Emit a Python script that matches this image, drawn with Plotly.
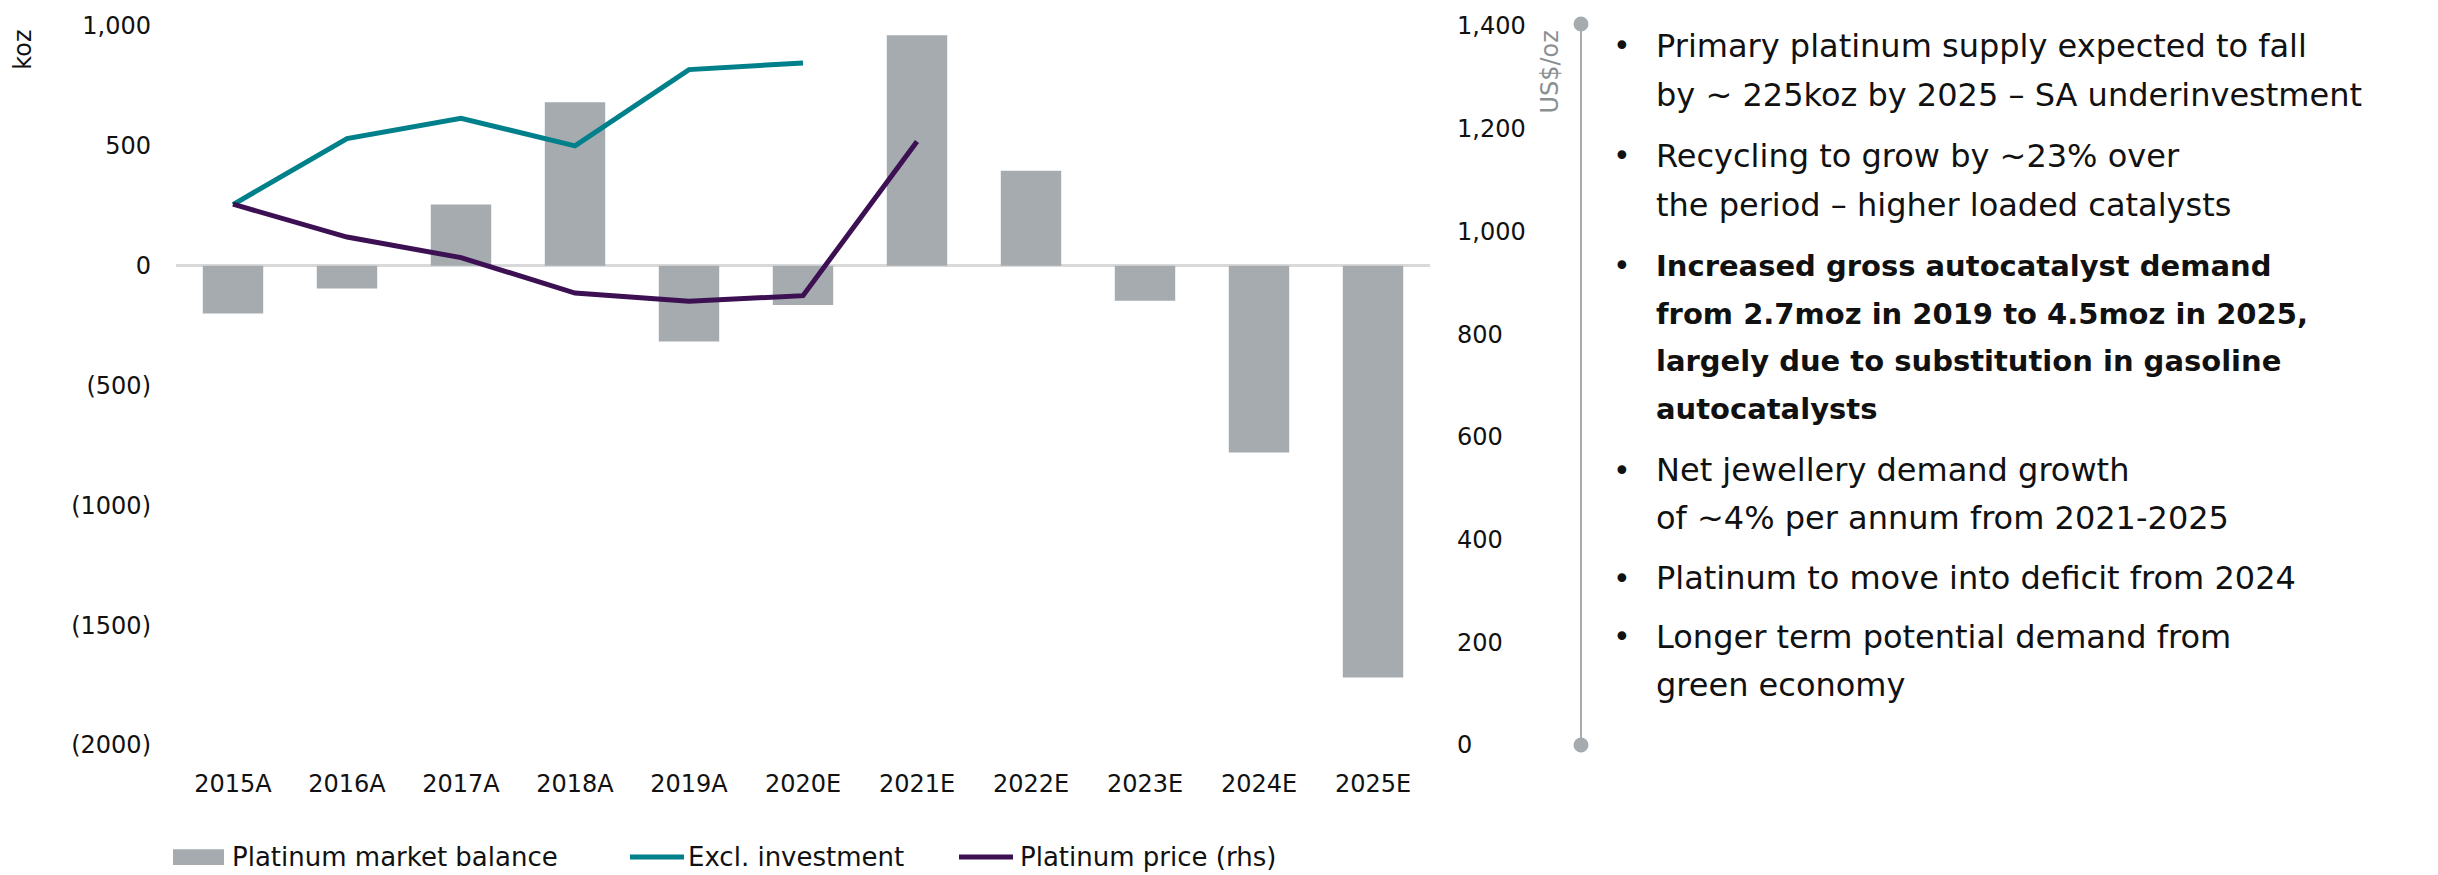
import plotly.graph_objects as go

# ---- data ----
years = ["2015A", "2016A", "2017A", "2018A", "2019A", "2020E",
         "2021E", "2022E", "2023E", "2024E", "2025E"]
market_balance = [-200, -95, 255, 682, -316, -164, 961, 396, -146, -780, -1718]
excl_investment = [255, 530, 615, 500, 818, 846, None, None, None, None, None]
platinum_price = [1053, 989, 949, 880, 864, 875, 1175, None, None, None, None]

left_tickvals = [1000, 500, 0, -500, -1000, -1500, -2000]
left_ticktext = ["1,000", "500", "0", "(500)", "(1000)", "(1500)", "(2000)"]
right_tickvals = [0, 200, 400, 600, 800, 1000, 1200, 1400]
right_ticktext = ["0", "200", "400", "600", "800", "1,000", "1,200", "1,400"]

series_names = ["Platinum market balance", "Excl. investment", "Platinum price (rhs)"]
left_title = "koz"
right_title = "US$/oz"

bullets = [
    (["Primary platinum supply expected to fall",
      "by ~ 225koz by 2025 – SA underinvestment"], False),
    (["Recycling to grow by ~23% over",
      "the period – higher loaded catalysts"], False),
    (["Increased gross autocatalyst demand",
      "from 2.7moz in 2019 to 4.5moz in 2025,",
      "largely due to substitution in gasoline",
      "autocatalysts"], True),
    (["Net jewellery demand growth",
      "of ~4% per annum from 2021-2025"], False),
    (["Platinum to move into deficit from 2024"], False),
    (["Longer term potential demand from",
      "green economy"], False),
]

# ---- styling ----
W, H = 2438, 875
L, R, T, B = 176, 1008, 20, 130
PW, PH = W - L - R, H - T - B
FONT = "DejaVu Sans"
GREY_BAR = "#A5ABAE"
TEAL = "#00808A"
PURPLE = "#3C1053"


def px(x):
    return (x - L) / PW


def py(y):
    return (H - B - y) / PH


fig = go.Figure()
fig.add_trace(go.Bar(x=years, y=market_balance, name=series_names[0],
                     marker=dict(color=GREY_BAR, line=dict(width=0)),
                     yaxis="y"))
fig.add_trace(go.Scatter(x=years, y=excl_investment, name=series_names[1],
                         mode="lines", line=dict(color=TEAL, width=5),
                         yaxis="y", connectgaps=False))
fig.add_trace(go.Scatter(x=years, y=platinum_price, name=series_names[2],
                         mode="lines", line=dict(color=PURPLE, width=5),
                         yaxis="y2", connectgaps=False))

fig.update_layout(
    width=W, height=H, autosize=False,
    margin=dict(l=L, r=R, t=T, b=B, pad=0),
    paper_bgcolor="white", plot_bgcolor="white",
    showlegend=False,
    bargap=0.47,
    font=dict(family=FONT, color="#111111", size=24),
    xaxis=dict(type="category", range=[-0.5, 10.5], showgrid=False,
               showline=False, zeroline=False, ticks="",
               tickfont=dict(size=24), ticklabelstandoff=22),
    yaxis=dict(range=[-2000, 1000], tickvals=left_tickvals,
               ticktext=left_ticktext, showgrid=False, showline=False,
               zeroline=True, zerolinecolor="#D9D9D9", zerolinewidth=3,
               ticks="", tickfont=dict(size=24), ticklabelstandoff=24),
    yaxis2=dict(range=[0, 1400], overlaying="y", side="right",
                tickvals=right_tickvals, ticktext=right_ticktext,
                showgrid=False, showline=False, zeroline=False, ticks="",
                tickfont=dict(size=24), ticklabelstandoff=26),
)

annotations = []
shapes = []

# axis titles
annotations.append(dict(text=left_title, x=px(23), y=py(44), xref="paper",
                        yref="paper", xanchor="center", yanchor="middle",
                        showarrow=False, textangle=-90,
                        font=dict(size=24, color="#111111")))
annotations.append(dict(text=right_title, x=px(1550), y=py(67), xref="paper",
                        yref="paper", xanchor="center", yanchor="middle",
                        showarrow=False, textangle=-90,
                        font=dict(size=24, color="#8A8F92")))

# legend row
ly = 858
shapes.append(dict(type="rect", xref="paper", yref="paper",
                   x0=px(173), x1=px(224), y0=py(866), y1=py(850),
                   fillcolor=GREY_BAR, line=dict(width=0)))
shapes.append(dict(type="line", xref="paper", yref="paper",
                   x0=px(630), x1=px(684), y0=py(ly), y1=py(ly),
                   line=dict(color=TEAL, width=5)))
shapes.append(dict(type="line", xref="paper", yref="paper",
                   x0=px(959), x1=px(1013), y0=py(ly), y1=py(ly),
                   line=dict(color=PURPLE, width=5)))
for name, x0 in zip(series_names, [230, 686, 1018]):
    annotations.append(dict(text=name, x=px(x0), y=py(ly), xref="paper",
                            yref="paper", xanchor="left", yanchor="middle",
                            showarrow=False, font=dict(size=26)))

# divider with end dots
vx = 1581
shapes.append(dict(type="line", xref="paper", yref="paper",
                   x0=px(vx), x1=px(vx), y0=py(18), y1=py(745),
                   line=dict(color=GREY_BAR, width=2)))
for cy in (18, 745):
    shapes.append(dict(type="circle", xref="paper", yref="paper",
                       x0=px(vx - 7.5), x1=px(vx + 7.5), y0=py(cy + 7.5), y1=py(cy - 7.5),
                       fillcolor=GREY_BAR, line=dict(width=0)))

# bullet list
line_y = [[40, 90], [151, 200], [262, 310, 358, 406], [468, 516], [577], [636, 685]]
for (lines, bold), ys in zip(bullets, line_y):
    annotations.append(dict(text="•", x=px(1622), y=py(ys[0]), xref="paper",
                            yref="paper", xanchor="center", yanchor="middle",
                            showarrow=False, font=dict(size=30)))
    for txt, yy in zip(lines, ys):
        annotations.append(dict(text=f"<b>{txt}</b>" if bold else txt,
                                x=px(1654), y=py(yy), xref="paper",
                                yref="paper", xanchor="left", yanchor="middle",
                                showarrow=False,
                                font=dict(size=29 if bold else 32)))

fig.update_layout(annotations=annotations, shapes=shapes)
fig.write_html("out.html")
